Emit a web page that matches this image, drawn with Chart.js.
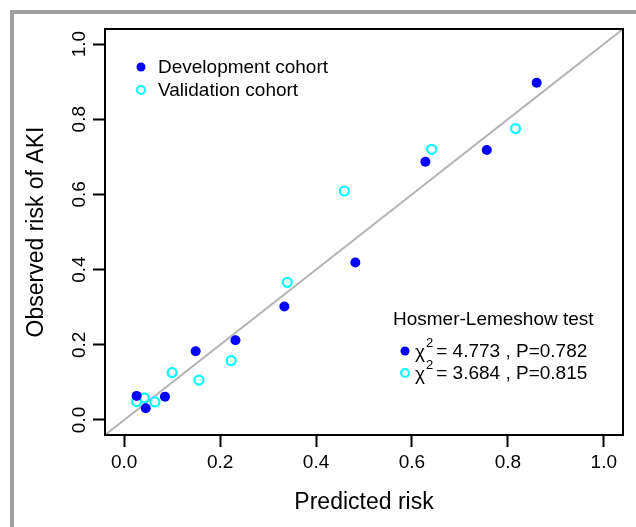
<!DOCTYPE html>
<html>
<head>
<meta charset="utf-8">
<script src="https://cdn.jsdelivr.net/npm/chart.js@4.4.1/dist/chart.umd.min.js"></script>
<style>
  body { margin: 0; background: #fff; }
  #calib { display: block; }
</style>
</head>
<body>
<canvas id="calib" width="636" height="527"></canvas>
<script>

// Calibration data (deciles)
const devPred = [0.026, 0.045, 0.085, 0.149, 0.232, 0.334, 0.482, 0.628, 0.756, 0.860];
const devObs  = [0.064, 0.031, 0.062, 0.183, 0.212, 0.302, 0.419, 0.687, 0.718, 0.897];
const valPred = [0.026, 0.042, 0.064, 0.100, 0.156, 0.223, 0.340, 0.459, 0.641, 0.816];
const valObs  = [0.049, 0.059, 0.048, 0.126, 0.106, 0.158, 0.366, 0.609, 0.720, 0.775];

const tickVals = [0.0, 0.2, 0.4, 0.6, 0.8, 1.0];
const axisMin = -0.04;
const axisMax = 1.04;

const seriesNames = ['Development cohort', 'Validation cohort'];
const hlTitle = 'Hosmer-Lemeshow test';
const hlChi = ['4.773', '3.684'];
const hlP = ['0.782', '0.815'];

const xTitle = 'Predicted risk';
const yTitle = 'Observed risk of AKI';

const FONT = '"Liberation Sans", Arial, sans-serif';
const BLUE = '#0000ff';
const CYAN = '#00ffff';

let toPoints = function (xs, ys) {
    return xs.map((x, i) => ({ x: x, y: ys[i] }));
};

// marker used in the legend and the test box
let marker = function (ctx, x, y, filled) {
    ctx.beginPath();
    ctx.arc(x, y, filled ? 4.5 : 4, 0, Math.PI * 2);
    if (filled) {
        ctx.fillStyle = BLUE;
        ctx.fill();
    } else {
        ctx.lineWidth = 2;
        ctx.strokeStyle = CYAN;
        ctx.stroke();
    }
};

// frame, box, rotated y labels, titles, legend and test text
const decorations = {
    id: 'decorations',
    beforeDraw(chart) {
        const ctx = chart.ctx;
        ctx.save();
        ctx.fillStyle = '#fff';
        ctx.fillRect(0, 0, chart.width, chart.height);
        ctx.fillStyle = '#a0a0a0';
        ctx.fillRect(10, 10, 4, chart.height - 10);
        ctx.fillRect(10, 10, chart.width - 10, 4);
        ctx.restore();
    },
    afterDraw(chart) {
        const ctx = chart.ctx;
        const area = chart.chartArea;
        const yScale = chart.scales.y;

        ctx.save();
        ctx.strokeStyle = '#000';
        ctx.lineWidth = 2;
        ctx.strokeRect(area.left, area.top, area.right - area.left, area.bottom - area.top);

        ctx.fillStyle = '#000';
        ctx.font = '19px ' + FONT;
        ctx.textAlign = 'center';
        ctx.textBaseline = 'middle';
        tickVals.forEach(v => {
            ctx.save();
            ctx.translate(80, yScale.getPixelForValue(v));
            ctx.rotate(-Math.PI / 2);
            ctx.fillText(v.toFixed(1), 0, 0);
            ctx.restore();
        });

        // axis titles
        ctx.font = '23px ' + FONT;
        ctx.fillText(xTitle, (area.left + area.right) / 2, 503);
        ctx.save();
        ctx.translate(37, (area.top + area.bottom) / 2);
        ctx.rotate(-Math.PI / 2);
        ctx.fillText(yTitle, 0, 0);
        ctx.restore();

        // legend top left
        ctx.font = '19px ' + FONT;
        ctx.textAlign = 'left';
        marker(ctx, 141, 67, true);
        marker(ctx, 141, 90, false);
        ctx.fillStyle = '#000';
        ctx.fillText(seriesNames[0], 158, 68);
        ctx.fillText(seriesNames[1], 158, 91);

        // Hosmer-Lemeshow box
        ctx.fillText(hlTitle, 393, 320);
        let rows = [351, 373];
        rows.forEach((ry, i) => {
            marker(ctx, 405, ry, i === 0);
            ctx.fillStyle = '#000';
            ctx.font = '19px ' + FONT;
            let cx = 415;
            ctx.fillText('\u03c7', cx, ry + 2);
            cx += ctx.measureText('\u03c7').width + 1;
            ctx.font = '13px ' + FONT;
            ctx.fillText('2', cx, ry - 8);
            cx += ctx.measureText('2').width + 3;
            ctx.font = '19px ' + FONT;
            ctx.fillText('= ' + hlChi[i] + ' , P=' + hlP[i], cx, ry + 1);
        });
        ctx.restore();
    }
};

const config = {
    type: 'scatter',
    data: {
        datasets: [
            {
                label: seriesNames[0],
                data: toPoints(devPred, devObs),
                pointRadius: 5,
                pointBackgroundColor: BLUE,
                pointBorderWidth: 0,
                order: 1
            },
            {
                label: seriesNames[1],
                data: toPoints(valPred, valObs),
                pointRadius: 4.5,
                pointBackgroundColor: 'rgba(0,0,0,0)',
                pointBorderColor: CYAN,
                pointBorderWidth: 2.2,
                order: 2
            },
            {
                // reference line y = x
                type: 'line',
                label: 'ideal',
                data: toPoints([axisMin, axisMax], [axisMin, axisMax]),
                borderColor: '#b4b4b4',
                borderWidth: 2,
                pointRadius: 0,
                order: 3
            }
        ]
    },
    options: {
        responsive: false,
        animation: false,
        layout: { padding: { top: 29, right: 13, left: 0, bottom: 0 } },
        plugins: {
            legend: { display: false },
            tooltip: { enabled: false }
        },
        scales: {
            x: {
                type: 'linear',
                min: axisMin,
                max: axisMax,
                afterBuildTicks: s => { s.ticks = tickVals.map(v => ({ value: v })); },
                afterFit: s => { s.height = 92; },
                border: { display: false },
                grid: { drawOnChartArea: false, drawTicks: true, tickLength: 12, tickColor: '#000', tickWidth: 2 },
                ticks: {
                    color: '#000',
                    padding: 4,
                    maxRotation: 0,
                    font: { family: FONT, size: 19 },
                    callback: v => v.toFixed(1)
                }
            },
            y: {
                type: 'linear',
                min: axisMin,
                max: axisMax,
                afterBuildTicks: s => { s.ticks = tickVals.map(v => ({ value: v })); },
                afterFit: s => { s.width = 105; },
                border: { display: false },
                grid: { drawOnChartArea: false, drawTicks: true, tickLength: 12, tickColor: '#000', tickWidth: 2 },
                ticks: { display: false }
            }
        }
    },
    plugins: [decorations]
};

const calibChart = new Chart(document.getElementById('calib'), config);
</script>
</body>
</html>
